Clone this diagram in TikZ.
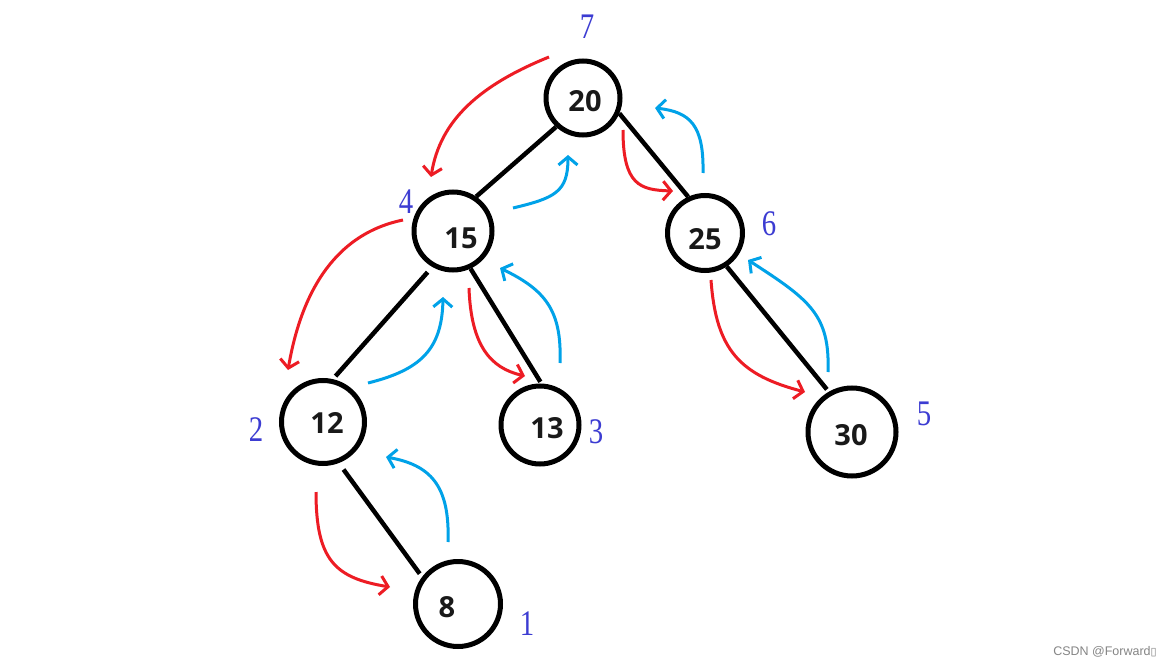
\documentclass[tikz,border=0pt]{standalone}
\usepackage{fontspec}
\newfontfamily\numfont{Open Sans}
\newfontfamily\ordfont{Liberation Serif}
\newfontfamily\wmfont{Liberation Sans}
\newfontfamily\boxfont{DejaVu Sans}
\usetikzlibrary{arrows.meta}
\definecolor{tred}{HTML}{ED1C24}
\definecolor{tblue}{HTML}{00A2E8}
\definecolor{ordblue}{HTML}{3C3CD2}
\definecolor{wmgray}{HTML}{858585}
\newcommand{\ordnum}[1]{\scalebox{0.8}[1]{#1}}
\tikzset{
  vert/.style={circle, draw=black, line width=5pt, inner sep=0pt, minimum size=#1},
  numlab/.style={font=\numfont\bfseries\fontsize{29}{29}\selectfont, text=black!90},
  ordlab/.style={text=ordblue, font=\ordfont\fontsize{36}{36}\selectfont, inner sep=0pt},
  edge/.style={draw=black, line width=4.5pt},
  redarr/.style={draw=tred, line width=3pt, -{Straight Barb[length=8pt,width=19pt]}},
  bluearr/.style={draw=tblue, line width=3pt, -{Straight Barb[length=8pt,width=19pt]}},
}
\begin{document}
\begin{tikzpicture}[x=1pt,y=-1pt]
\fill[white] (0,0) rectangle (1173,666);
\useasboundingbox (0,0) rectangle (1173,666);

% vertices
\node[vert=74pt, label={[numlab, xshift=2pt, yshift=-3pt]center:20}] (n20) at (583,98) {};
\node[vert=78pt, label={[numlab, xshift=8pt, yshift=-7pt]center:15}] (n15) at (453,231) {};
\node[vert=75pt, label={[numlab, xshift=0pt, yshift=-6pt]center:25}] (n25) at (705,233) {};
\node[vert=83pt, label={[numlab, xshift=4pt, yshift=-1pt]center:12}] (n12) at (323,422) {};
\node[vert=78pt, label={[numlab, xshift=7pt, yshift=-3pt]center:13}] (n13) at (540,425) {};
\node[vert=88pt, label={[numlab, xshift=-1pt, yshift=-3pt]center:30}] (n30) at (852,432) {};
\node[vert=85pt, label={[numlab, xshift=-11pt, yshift=-3pt]center:8}] (n8) at (458,604) {};

% tree edges
\draw[edge] (n20.227) -- (n15.56);
\draw[edge] (n20.337) -- (n25.115);
\draw[edge, shorten <=7pt, shorten >=4pt] (n15.240) -- (n12.77);
\draw[edge, shorten >=2pt] (n15.295) -- (n13.88);
\draw[edge, shorten >=3pt] (n25.303) -- (n30.120);
\draw[edge, shorten <=8pt, shorten >=4pt] (n12.291) -- (n8.143);

% order labels
\node[ordlab] (o7) at (587,27) {\ordnum{7}};
\node[ordlab] (o4) at (406,202) {\ordnum{4}};
\node[ordlab] (o6) at (769,224) {\ordnum{6}};
\node[ordlab] (o2) at (256,430) {\ordnum{2}};
\node[ordlab] (o3) at (596,432) {\ordnum{3}};
\node[ordlab] (o5) at (924,414) {\ordnum{5}};
\node[ordlab] (o1) at (527,624) {\ordnum{1}};

% red (descending) arrows
\draw[redarr] (549,57) .. controls (480,85) and (440,120) .. (431,177);
\draw[redarr] (403,220) .. controls (330,235) and (300,300) .. (288,370);
\draw[redarr] (623,130) .. controls (623,185) and (640,190) .. (673,191);
\draw[redarr] (469,288) .. controls (471,345) and (490,368) .. (525,376);
\draw[redarr] (711,280) .. controls (716,350) and (740,375) .. (805,392);
\draw[redarr] (316,492) .. controls (316,560) and (335,578) .. (390,587);

% blue (ascending) arrows
\draw[bluearr] (448,542) .. controls (450,485) and (430,465) .. (386,457);
\draw[bluearr] (560,363) .. controls (562,310) and (545,290) .. (500,268);
\draw[bluearr] (368,383) .. controls (420,370) and (442,350) .. (443,297);
\draw[bluearr] (513,208) .. controls (555,198) and (568,192) .. (568,155);
\draw[bluearr] (703,173) .. controls (704,125) and (690,112) .. (655,108);
\draw[bluearr] (828,372) .. controls (830,315) and (810,300) .. (748,260);

% watermark
\node[text=wmgray, font=\wmfont\fontsize{12.5}{12.5}\selectfont, inner sep=0pt] (wm) at (1105,652) {CSDN @Forward{\boxfont\fontsize{11}{11}\selectfont ▯}};
\end{tikzpicture}
\end{document}
